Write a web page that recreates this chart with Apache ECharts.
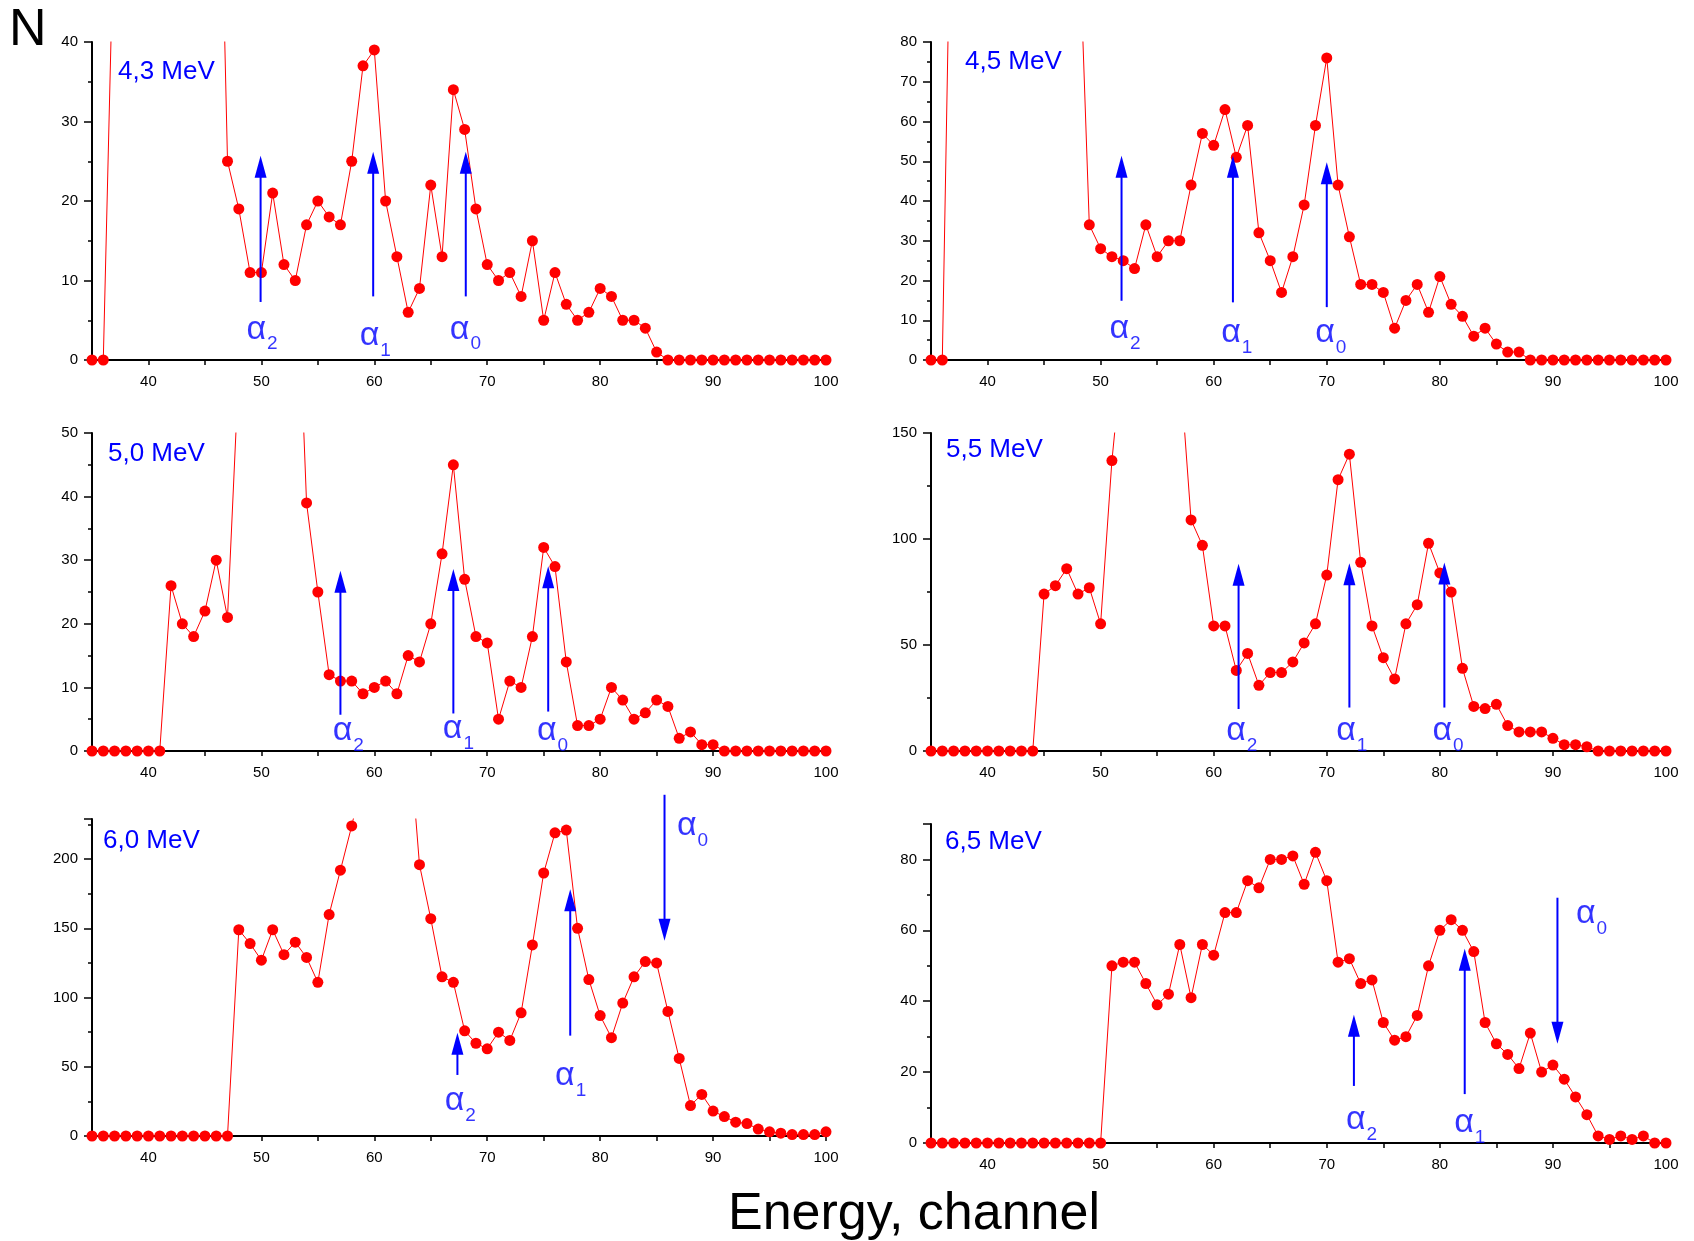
<!DOCTYPE html>
<html><head><meta charset="utf-8">
<script src="https://cdn.jsdelivr.net/npm/echarts@6/dist/echarts.min.js"></script>
<style>html,body{margin:0;padding:0;background:#fff}#c{width:1694px;height:1241px}</style>
</head><body><div id="c"></div>
<script>
// Energy channels (x)
const channels = [35,36,37,38,39,40,41,42,43,44,45,46,47,48,49,50,51,52,53,54,55,56,57,58,59,60,61,62,63,64,65,66,67,68,69,70,71,72,73,74,75,76,77,78,79,80,81,82,83,84,85,86,87,88,89,90,91,92,93,94,95,96,97,98,99,100];

// Counts N per channel (values above the axis maximum are off-scale and clipped)
const counts43 = [0,0,59,250,600,900,1000,800,500,300,160,87,25,19,11,11,21,12,10,17,20,18,17,25,37,39,20,13,6,9,22,13,34,29,19,12,10,11,8,15,5,11,7,5,6,9,8,5,5,4,1,0,0,0,0,0,0,0,0,0,0,0,0,0,0,0];
const counts45 = [0,0,160,500,1200,2000,2200,1800,1200,700,400,250,160,116,34,28,26,25,23,34,26,30,30,44,57,54,63,51,59,32,25,17,26,39,59,76,44,31,19,19,17,8,15,19,12,21,14,11,6,8,4,2,2,0,0,0,0,0,0,0,0,0,0,0,0,0];
const counts50 = [0,0,0,0,0,0,0,26,20,18,22,30,21,60,200,400,450,300,85,39,25,12,11,11,9,10,11,9,15,14,20,31,45,27,18,17,5,11,10,18,32,29,14,4,4,5,10,8,5,6,8,7,2,3,1,1,0,0,0,0,0,0,0,0,0,0];
const counts55 = [0,0,0,0,0,0,0,0,0,0,74,78,86,74,77,60,137,191,500,900,800,450,182,109,97,59,59,38,46,31,37,37,42,51,60,83,128,140,89,59,44,34,60,69,98,84,75,39,21,20,22,12,9,9,9,6,3,3,2,0,0,0,0,0,0,0];
const counts60 = [0,0,0,0,0,0,0,0,0,0,0,0,0,149,139,127,149,131,140,129,111,160,192,224,260,330,360,340,299,196,157,115,111,76,67,63,75,69,89,138,190,219,221,150,113,87,71,96,115,126,125,90,56,22,30,18,14,10,9,5,3,2,1,1,1,3];
const counts65 = [0,0,0,0,0,0,0,0,0,0,0,0,0,0,0,0,50,51,51,45,39,42,56,41,56,53,65,65,74,72,80,80,81,73,82,74,51,52,45,46,34,29,30,36,50,60,63,60,54,34,28,25,21,31,20,22,18,13,8,2,1,2,1,2,0,0];

// Arrows: [channel, start N, arrow-head centre N]
const arrows43 = [[49.93,7.3,24.3],[59.9,8.0,24.8],[68.1,8.0,24.8]];
const arrows45 = [[51.85,14.9,48.6],[61.7,14.5,48.6],[70.0,13.3,47.0]];
const arrows50 = [[57.0,5.7,26.6],[67.0,5.9,26.9],[75.4,6.2,27.3]];
const arrows55 = [[62.2,19.8,83.1],[72.0,20.5,83.4],[80.4,20.5,83.7]];
const arrows60 = [[67.36,44.1,66.7],[77.35,72.5,170.3],[85.7,246.5,149]];
const arrows65 = [[72.4,16.1,33.1],[82.2,13.8,51.7],[90.4,69.2,31.1]];

// Alpha labels: [channel, N, subscript]
const labels43 = [[49.64,4.0,'2'],[59.67,3.15,'1'],[67.65,4.0,'0']];
const labels45 = [[51.74,8.05,'2'],[61.63,7.05,'1'],[69.93,7.05,'0']];
const labels50 = [[57.27,3.3,'2'],[67.03,3.6,'1'],[75.37,3.3,'0']];
const labels55 = [[62.07,9.9,'2'],[71.8,9.9,'1'],[80.3,9.9,'0']];
const labels60 = [[67.2,26,'2'],[76.97,44.1,'1'],[87.77,224.8,'0']];
const labels65 = [[72.65,6.9,'2'],[82.23,5.95,'1'],[93.0,65,'0']];

const titles = ['4,3 MeV','4,5 MeV','5,0 MeV','5,5 MeV','6,0 MeV','6,5 MeV'];
const yMaxes = [40,80,50,150,229,90];
const yIntervals = [10,10,10,50,50,20];

const FONT = '"Liberation Sans", Arial, sans-serif';
const layout = [
  {left:92, top:42, width:734, height:318, tl:118, tt:59},
  {left:931, top:42, width:735, height:318, tl:965, tt:49},
  {left:92, top:433, width:734, height:318, tl:108, tt:441},
  {left:931, top:433, width:735, height:318, tl:946, tt:437},
  {left:92, top:819, width:734, height:317, tl:103, tt:828},
  {left:931, top:824, width:735, height:319, tl:945, tt:829}
];
const allCounts = [counts43,counts45,counts50,counts55,counts60,counts65];
const allArrows = [arrows43,arrows45,arrows50,arrows55,arrows60,arrows65];
const allLabels = [labels43,labels45,labels50,labels55,labels60,labels65];

const option = {
  animation:false, backgroundColor:'#fff',
  grid:[], xAxis:[], yAxis:[], series:[],
  title:[
    {text:'N', left:9, top:5, padding:0, textStyle:{fontSize:52, fontWeight:'normal', color:'#000', fontFamily:FONT}},
    {text:'Energy, channel', left:728, top:1189, padding:0, textStyle:{fontSize:52, fontWeight:'normal', color:'#000', fontFamily:FONT}}
  ]
};
const axisLineStyle = {color:'#000', width:2};
const tickStyle = {color:'#000', width:1.5};
layout.forEach((L,i)=>{
  option.grid.push({left:L.left, top:L.top, width:L.width, height:L.height, containLabel:false, outerBoundsMode:'none'});
  option.xAxis.push({type:'value', gridIndex:i, min:35, max:100, interval:5,
    axisLine:{show:true, onZero:false, lineStyle:axisLineStyle},
    axisTick:{show:true, length:5, lineStyle:tickStyle},
    axisLabel:{margin:14, fontSize:15, color:'#000', fontFamily:FONT, formatter:v=> (v%10===0? String(v):'')},
    splitLine:{show:false}});
  option.yAxis.push({type:'value', gridIndex:i, min:0, max:yMaxes[i], interval:yIntervals[i],
    axisLine:{show:true, onZero:false, lineStyle:axisLineStyle},
    axisTick:{show:true, length:8, lineStyle:tickStyle},
    minorTick:{show:true, splitNumber:2, length:4, lineStyle:tickStyle},
    axisLabel:{margin:14, fontSize:15, color:'#000', fontFamily:FONT, showMaxLabel: yMaxes[i]%yIntervals[i]===0},
    splitLine:{show:false}, minorSplitLine:{show:false}});
  option.series.push({type:'line', xAxisIndex:i, yAxisIndex:i, silent:true, clip:true,
    data: channels.map((c,k)=>[c, allCounts[i][k]]),
    symbol:'circle', symbolSize:11, showSymbol:true, showAllSymbol:true,
    itemStyle:{color:'#ff0000'}, lineStyle:{color:'#ff0000', width:1}, z:2});
  // arrows, one small line series each
  allArrows[i].forEach(a=>{
    option.series.push({type:'line', xAxisIndex:i, yAxisIndex:i, silent:true, clip:false, z:4,
      showSymbol:true, showAllSymbol:true,
      data:[{value:[a[0],a[1]], symbol:'none'},
            {value:[a[0],a[2]], symbol:'triangle', symbolSize:[12,22], symbolRotate: a[2]<a[1]?180:0}],
      itemStyle:{color:'#0000ff'}, lineStyle:{color:'#0000ff', width:2}});
  });
  option.series.push({type:'scatter', xAxisIndex:i, yAxisIndex:i, silent:true, z:3,
    data: allLabels[i].map(l=>({value:[l[0],l[1]], sub:l[2]})),
    symbolSize:1, itemStyle:{color:'rgba(0,0,0,0)'},
    label:{show:true, position:'inside', formatter:'α', fontSize:34, color:'#0000ff', fontFamily:FONT, offset:[-1,1]}});
  option.series.push({type:'scatter', xAxisIndex:i, yAxisIndex:i, silent:true, z:3,
    data: allLabels[i].map(l=>({value:[l[0],l[1]], sub:l[2]})),
    symbolSize:1, itemStyle:{color:'rgba(0,0,0,0)'},
    label:{show:true, position:'inside', formatter:p=>p.data.sub, fontSize:19, color:'#0000ff', fontFamily:FONT, offset:[15,16]}});
  option.title.push({text:titles[i], left:L.tl, top:L.tt, padding:0,
    textStyle:{fontSize:26, fontWeight:'normal', color:'#0000ff', fontFamily:FONT}});
});
const chart = echarts.init(document.getElementById('c'), null, {renderer:'canvas'});
chart.setOption(option);
</script></body></html>
